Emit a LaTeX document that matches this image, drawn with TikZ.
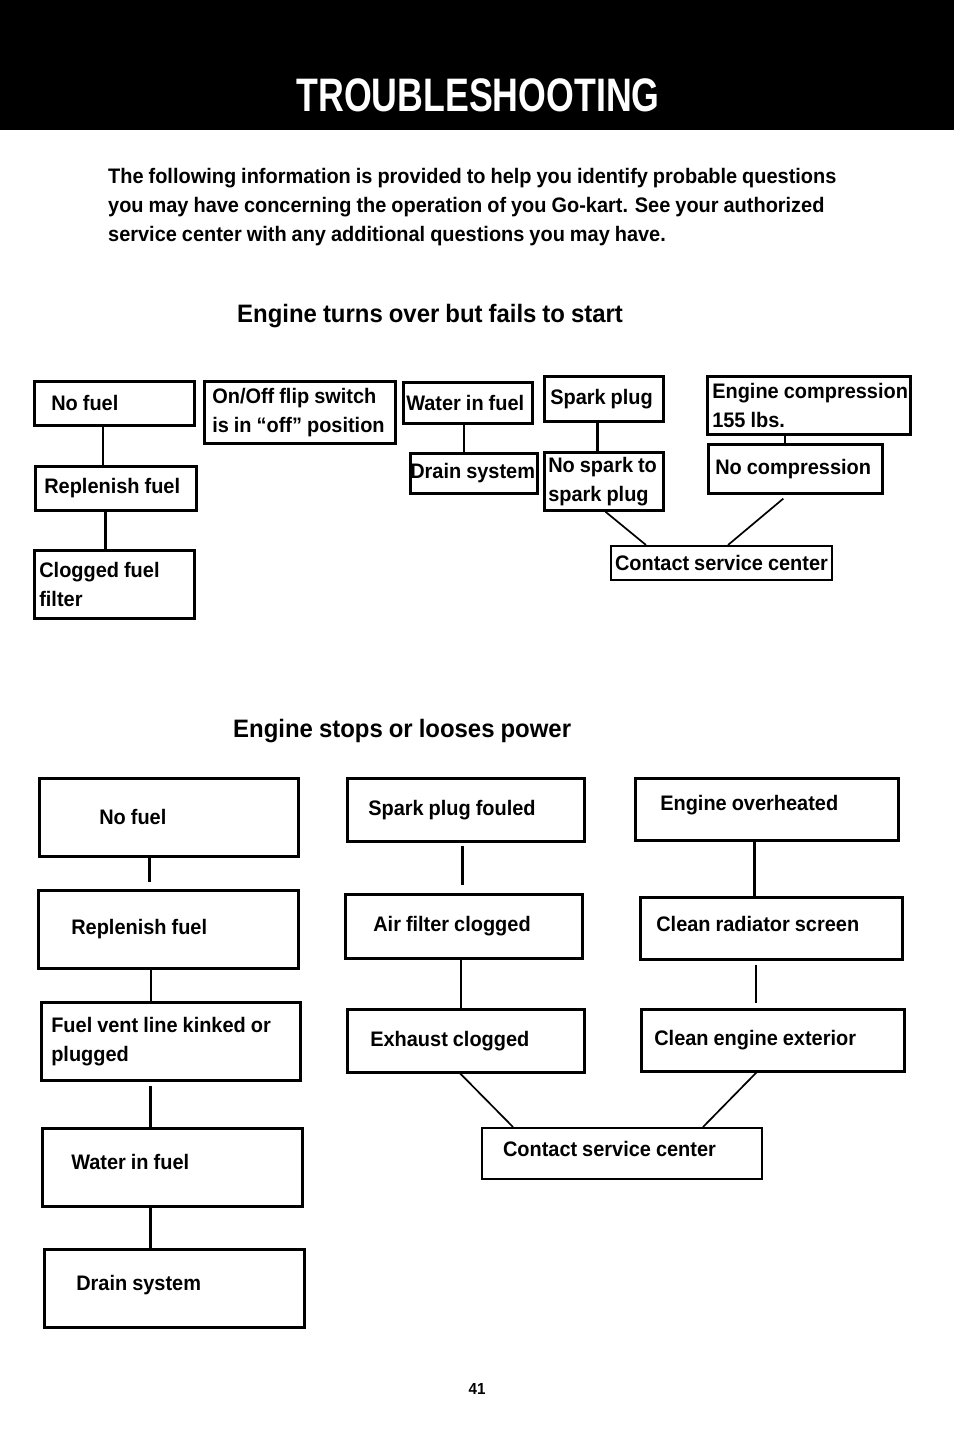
\documentclass[tikz,border=0pt]{standalone}
\usepackage{fontspec}
\setmainfont[FakeStretch=0.95, WordSpace=0.9]{Liberation Sans}
\newfontfamily\titlefont[FakeStretch=0.76]{Liberation Sans}
\usetikzlibrary{arrows}

\begin{document}
\begin{tikzpicture}[x=1pt, y=-1pt]
  \tikzstyle{every node} = [font = \bfseries\fontsize{21}{29}\selectfont,
                            inner sep = 0pt]
\tikzset{BoxStyle/.style={draw, line width = 2.6pt, anchor = north west, align = flush left}}
\tikzset{LinkStyle/.style={line width = 2.6pt}}
\tikzset{ThinLinkStyle/.style={line width = 1.7pt}}
\useasboundingbox (0,0) rectangle (954,1432);
\fill[black] (0,0) rectangle (954,130);
\node[white, font = \titlefont\bfseries\fontsize{47}{50}\selectfont] (Title) at (478,95) {TROUBLESHOOTING};
\node[anchor = north west, align = left] (Intro) at (108,168) {The following information is provided to help you identify probable questions\\
you may have concerning the operation of you Go-kart. See your authorized\\
service center with any additional questions you may have.};
\node[anchor = west, font = \bfseries\fontsize{25.2}{30}\selectfont] (HeadS) at (237,316) {Engine turns over but fails to start};
\node[anchor = west, font = \bfseries\fontsize{25.2}{30}\selectfont] (HeadP) at (233,731) {Engine stops or looses power};

\node[BoxStyle, minimum width = 160pt, minimum height = 44pt, text width = 126pt] (S1) at (33,380) {No fuel};
\node[BoxStyle, minimum width = 161pt, minimum height = 44pt, text width = 143pt] (S2) at (34,465) {Replenish fuel};
\node[BoxStyle, minimum width = 160pt, minimum height = 68pt, text width = 150pt] (S3) at (33,549) {Clogged fuel\\filter};
\node[BoxStyle, minimum width = 191pt, minimum height = 62pt, text width = 175pt] (S4) at (203,380) {On/Off flip switch\\is in “off” position};
\node[BoxStyle, minimum width = 129pt, minimum height = 41pt, text width = 123pt] (S5) at (402,381) {Water in fuel};
\node[BoxStyle, minimum width = 127pt, minimum height = 40pt, text width = 127pt] (S6) at (409,452) {Drain system};
\node[BoxStyle, minimum width = 119pt, minimum height = 45pt, text width = 107pt] (S7) at (543,375) {Spark plug};
\node[BoxStyle, minimum width = 119pt, minimum height = 58pt, text width = 111pt] (S8) at (543,451) {No spark to\\spark plug};
\node[BoxStyle, minimum width = 203pt, minimum height = 58pt, text width = 193pt] (S9) at (706,375) {\mbox{Engine compression}\\155 lbs.};
\node[BoxStyle, minimum width = 174pt, minimum height = 49pt, text width = 160pt] (S10) at (707,443) {No compression};
\node[BoxStyle, minimum width = 221pt, minimum height = 34pt, text width = 213pt, line width = 2pt] (S11) at (610,545) {Contact service center};

\draw[ThinLinkStyle] ([xshift=-11pt]S1.south) -- ([xshift=-11pt]S1.south |- S2.north);
\draw[LinkStyle] ([xshift=-10.5pt]S2.south) -- ([xshift=-10.5pt]S2.south |- S3.north);
\draw[ThinLinkStyle] ([xshift=-3.5pt]S5.south) -- ([xshift=-3.5pt]S5.south |- S6.north);
\draw[LinkStyle] ([xshift=-6.5pt]S7.south) -- ([xshift=-6.5pt]S7.south |- S8.north);
\draw[ThinLinkStyle] ([xshift=-23.5pt]S9.south) -- ([xshift=-23.5pt]S9.south |- S10.north);
\draw[ThinLinkStyle] ([xshift=1.5pt]S8.south) -- ([xshift=36pt]S11.north west);
\draw[ThinLinkStyle] ([xshift=-12pt, yshift=-4pt]S10.south) -- ([xshift=118pt]S11.north west);

\node[BoxStyle, minimum width = 259pt, minimum height = 78pt, text width = 139pt] (P1) at (38,777) {No fuel};
\node[BoxStyle, minimum width = 260pt, minimum height = 78pt, text width = 194pt] (P2) at (37,889) {Replenish fuel};
\node[BoxStyle, minimum width = 259pt, minimum height = 78pt, text width = 239pt] (P3) at (40,1001) {Fuel vent line kinked or\\plugged};
\node[BoxStyle, minimum width = 260pt, minimum height = 78pt, text width = 202pt, text depth = 10pt] (P4) at (41,1127) {Water in fuel};
\node[BoxStyle, minimum width = 260pt, minimum height = 78pt, text width = 196pt, text depth = 10pt] (P5) at (43,1248) {Drain system};
\node[BoxStyle, minimum width = 237pt, minimum height = 63pt, text width = 195pt] (P6) at (346,777) {Spark plug fouled};
\node[BoxStyle, minimum width = 237pt, minimum height = 64pt, text width = 181pt] (P7) at (344,893) {Air filter clogged};
\node[BoxStyle, minimum width = 237pt, minimum height = 63pt, text width = 191pt] (P8) at (346,1008) {Exhaust clogged};
\node[BoxStyle, minimum width = 263pt, minimum height = 62pt, text width = 213pt, text depth = 12pt] (P9) at (634,777) {Engine overheated};
\node[BoxStyle, minimum width = 262pt, minimum height = 62pt, text width = 230pt, text depth = 8pt] (P10) at (639,896) {Clean radiator screen};
\node[BoxStyle, minimum width = 263pt, minimum height = 62pt, text width = 237pt] (P11) at (640,1008) {Clean engine exterior};
\node[BoxStyle, minimum width = 280pt, minimum height = 51pt, text width = 238pt, text depth = 10pt, line width = 2pt] (P12) at (481,1127) {Contact service center};

\draw[LinkStyle, shorten >= 7pt] ([xshift=-19.5pt]P1.south) -- ([xshift=-19.5pt]P1.south |- P2.north);
\draw[ThinLinkStyle] ([xshift=-17pt]P2.south) -- ([xshift=-17pt]P2.south |- P3.north);
\draw[LinkStyle, shorten <= 4pt] ([xshift=-20.5pt]P3.south) -- ([xshift=-20.5pt]P3.south |- P4.north);
\draw[LinkStyle] ([xshift=-22pt]P4.south) -- ([xshift=-22pt]P4.south |- P5.north);
\draw[LinkStyle, shorten <= 3pt, shorten >= 8pt] ([xshift=-3.5pt]P6.south) -- ([xshift=-3.5pt]P6.south |- P7.north);
\draw[ThinLinkStyle] ([xshift=-2.5pt]P7.south) -- ([xshift=-2.5pt]P7.south |- P8.north);
\draw[LinkStyle] ([xshift=-12.5pt]P9.south) -- ([xshift=-12.5pt]P9.south |- P10.north);
\draw[ThinLinkStyle, shorten <= 4pt, shorten >= 5pt] ([xshift=-15pt]P10.south) -- ([xshift=-15pt]P10.south |- P11.north);
\draw[ThinLinkStyle] ([xshift=-5.5pt]P8.south) -- ([xshift=32pt]P12.north west);
\draw[ThinLinkStyle] ([xshift=-16.5pt]P11.south) -- ([xshift=222pt]P12.north west);

\node[font = \bfseries\fontsize{16}{18}\selectfont] (Page) at (477,1389) {41};
\end{tikzpicture}
\end{document}
